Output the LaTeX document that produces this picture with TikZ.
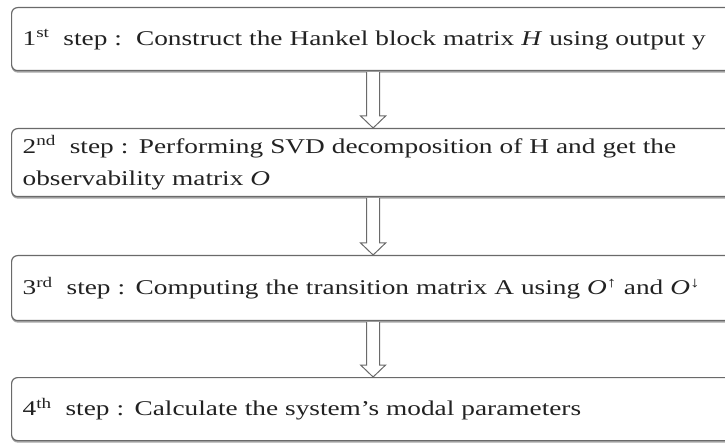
\documentclass[tikz,border=0pt]{standalone}
\usepackage{fontspec}
\setmainfont[FakeStretch=1.30]{Liberation Serif}
\usetikzlibrary{calc,shadows}
\definecolor{boxgray}{HTML}{6A6A6A}
\definecolor{txt}{HTML}{222222}
\begin{document}
\begin{tikzpicture}[x=1pt,y=-1pt,
  stepbox/.style={draw=boxgray, line width=1.2pt, rounded corners=6pt, fill=white,
    minimum width=723pt, text width=701pt, align=left, inner xsep=11pt, inner ysep=0pt,
    anchor=north west, font=\fontsize{21}{32}\selectfont, text=txt,
    drop shadow={shadow xshift=0pt, shadow yshift=-2pt, fill=black!35, opacity=1}},
  flow/.style={draw=boxgray, line width=1pt, fill=white, line join=miter}]
\useasboundingbox (0,0) rectangle (725,443);
\node[stepbox, minimum height=63pt] (s1) at (11,7)
  {1\textsuperscript{st}\ \ step :\ \ Construct the Hankel block matrix \textit{H} using output y\strut};
\node[stepbox, minimum height=68pt] (s2) at (11,128)
  {2\textsuperscript{nd}\ \ step : Performing SVD decomposition of H and get the\\observability matrix \textit{O}};
\node[stepbox, minimum height=65pt] (s3) at (11,255)
  {3\textsuperscript{rd}\ \ step : Computing the transition matrix A using \textit{O}\textsuperscript{↑} and \textit{O}\textsuperscript{↓}};
\node[stepbox, minimum height=63pt] (s4) at (11,377)
  {4\textsuperscript{th}\ \ step : Calculate the system’s modal parameters};
\foreach \a/\b in {s1/s2, s2/s3, s3/s4}{
  \draw[flow] ($(\a.south)+(-6.5,1)$) -- ($(\b.north)+(-6.5,-12)$) -- ($(\b.north)+(-12.5,-12)$)
    -- (\b.north) -- ($(\b.north)+(12.5,-12)$) -- ($(\b.north)+(6.5,-12)$) -- ($(\a.south)+(6.5,1)$);
}
\end{tikzpicture}
\end{document}
